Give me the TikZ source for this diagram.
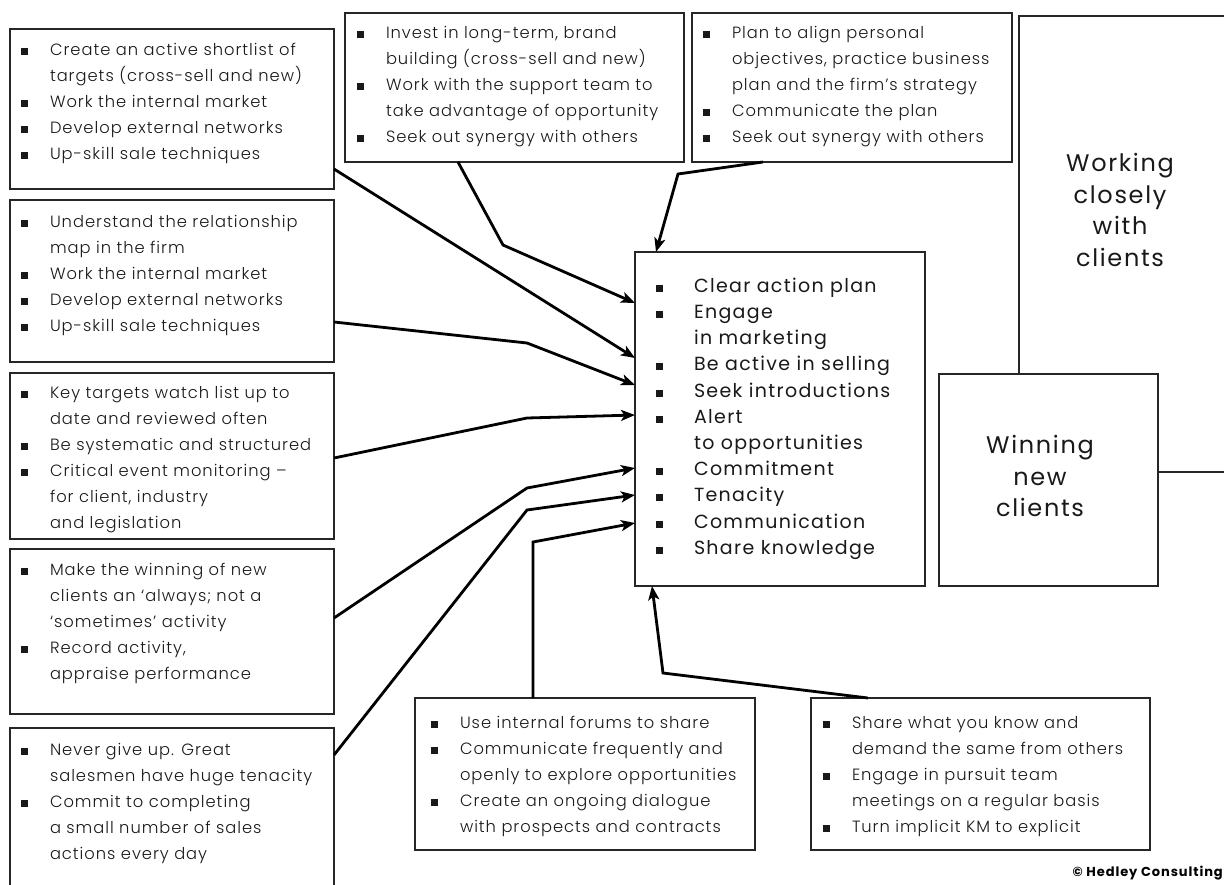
\documentclass[tikz,border=0pt]{standalone}
\usepackage{fontspec}
\setmainfont{Poppins}[LetterSpace=7]
\IfFontExistsTF{Poppins Light}{\newfontfamily\lightf{Poppins Light}[LetterSpace=6]}{\newfontfamily\lightf{Poppins}[LetterSpace=6]}
\usetikzlibrary{arrows.meta}
\newlength\indw
\newcommand\myb{\makebox[\indw][l]{\raisebox{0.5pt}{\rule{7pt}{7pt}}}\rule{0pt}{0.8em}}
\newcommand\myc{\hspace*{\indw}}
\begin{document}
\begin{tikzpicture}[x=1pt,y=-1pt,
  box/.style={draw=black!85, line width=1.6pt, fill=white, inner sep=0pt, outer sep=0pt, anchor=north west},
  txt/.style={inner sep=0pt, outer sep=0pt, anchor=north west, align=left, text=black!90,
    font=\lightf\fontsize{16.3}{26}\selectfont\setlength\indw{29pt}},
  coretxt/.style={txt, font=\rmfamily\fontsize{19}{26.2}\selectfont\setlength\indw{38pt}},
  bigtxt/.style={inner sep=0pt, align=center, text=black!90, font=\rmfamily\fontsize{24}{31.5}\selectfont},
  conn/.style={draw=black, line width=2.8pt, line join=miter,
    -{Stealth[length=14pt,width=11pt,inset=3.5pt]}}]
\useasboundingbox (0,0) rectangle (1224,884);
\clip (0,0) rectangle (1224,884);
\fill[white] (0,0) rectangle (1224,884);

% right boxes
\node[box, minimum width=260pt, minimum height=456pt] (work) at (1019,16) {};
\node[box, minimum width=219pt, minimum height=212pt] (win) at (939,374) {};
\node[bigtxt] (workt) at (1120,210) {Working\\closely\\with\\clients};
\node[bigtxt] (wint) at (1040,476) {Winning\\new\\clients};

% left boxes
\node[box, minimum width=324pt, minimum height=160pt] (b1) at (10,29) {};
\node[box, minimum width=324pt, minimum height=162pt] (b2) at (10,200) {};
\node[box, minimum width=324pt, minimum height=166pt] (b3) at (10,373) {};
\node[box, minimum width=324pt, minimum height=165pt] (b4) at (10,549) {};
\node[box, minimum width=324pt, minimum height=200pt] (b5) at (10,728) {};
% top boxes
\node[box, minimum width=339pt, minimum height=149pt] (t1) at (345,13) {};
\node[box, minimum width=320pt, minimum height=149pt] (t2) at (692,13) {};
% bottom boxes
\node[box, minimum width=340pt, minimum height=152pt] (bl) at (415,698) {};
\node[box, minimum width=339pt, minimum height=152pt] (br) at (811,698) {};
% core
\node[box, minimum width=290pt, minimum height=334pt] (core) at (635,252) {};

% texts
\node[txt] (b1t) at (21,42) {\myb Create an active shortlist of\\ \myc targets (cross-sell and new)\\ \myb Work the internal market\\ \myb Develop external networks\\ \myb Up-skill sale techniques};
\node[txt] (b2t) at (21,214) {\myb Understand the relationship\\ \myc map in the firm\\ \myb Work the internal market\\ \myb Develop external networks\\ \myb Up-skill sale techniques};
\node[txt] (b3t) at (21,385) {\myb Key targets watch list up to\\ \myc date and reviewed often\\ \myb Be systematic and structured\\ \myb Critical event monitoring –\\ \myc for client, industry\\ \myc and legislation};
\node[txt] (b4t) at (21,562) {\myb Make the winning of new\\ \myc clients an ‘always; not a\\ \myc ‘sometimes’ activity\\ \myb Record activity,\\ \myc appraise performance};
\node[txt] (b5t) at (21,742) {\myb Never give up. Great\\ \myc salesmen have huge tenacity\\ \myb Commit to completing\\ \myc a small number of sales\\ \myc actions every day};
\node[txt] (t1t) at (357,25) {\myb Invest in long-term, brand\\ \myc building (cross-sell and new)\\ \myb Work with the support team to\\ \myc take advantage of opportunity\\ \myb Seek out synergy with others};
\node[txt] (t2t) at (703,25) {\myb Plan to align personal\\ \myc objectives, practice business\\ \myc plan and the firm’s strategy\\ \myb Communicate the plan\\ \myb Seek out synergy with others};
\node[txt] (blt) at (431,715) {\myb Use internal forums to share\\ \myb Communicate frequently and\\ \myc openly to explore opportunities\\ \myb Create an ongoing dialogue\\ \myc with prospects and contracts};
\node[txt] (brt) at (823,715) {\myb Share what you know and\\ \myc demand the same from others\\ \myb Engage in pursuit team\\ \myc meetings on a regular basis\\ \myb Turn implicit KM to explicit};
\node[coretxt] (coret) at (656,277) {\myb Clear action plan\\ \myb Engage\\ \myc in marketing\\ \myb Be active in selling\\ \myb Seek introductions\\ \myb Alert\\ \myc to opportunities\\ \myb Commitment\\ \myb Tenacity\\ \myb Communication\\ \myb Share knowledge};

\node[anchor=base east, inner sep=0pt, font=\rmfamily\fontsize{13}{15}\selectfont\bfseries] (copy) at (1223,876) {© Hedley Consulting};

% connectors
\draw[conn] ([xshift=113pt]t1.south west) -- (503,245) -- ([yshift=-51pt]core.north west);
\draw[conn] ([xshift=71pt]t2.south west) -- (678,174) -- ([xshift=21pt]core.north west);
\draw[conn] ([yshift=-140pt]b1.north east) -- ([yshift=-106pt]core.north west);
\draw[conn] ([yshift=-122pt]b2.north east) -- (527,343) -- ([yshift=-133pt]core.north west);
\draw[conn] ([yshift=-85pt]b3.north east) -- (527,418) -- ([yshift=-163pt]core.north west);
\draw[conn] ([yshift=-69pt]b4.north east) -- (527,488) -- ([yshift=-216pt]core.north west);
\draw[conn] ([yshift=-27pt]b5.north east) -- (527,510) -- ([yshift=-243pt]core.north west);
\draw[conn] ([xshift=118pt]bl.north west) -- (533,542) -- ([yshift=-271pt]core.north west);
\draw[conn] ([xshift=57pt]br.north west) -- (663,673) -- ([xshift=17pt]core.south west);
\end{tikzpicture}
\end{document}
